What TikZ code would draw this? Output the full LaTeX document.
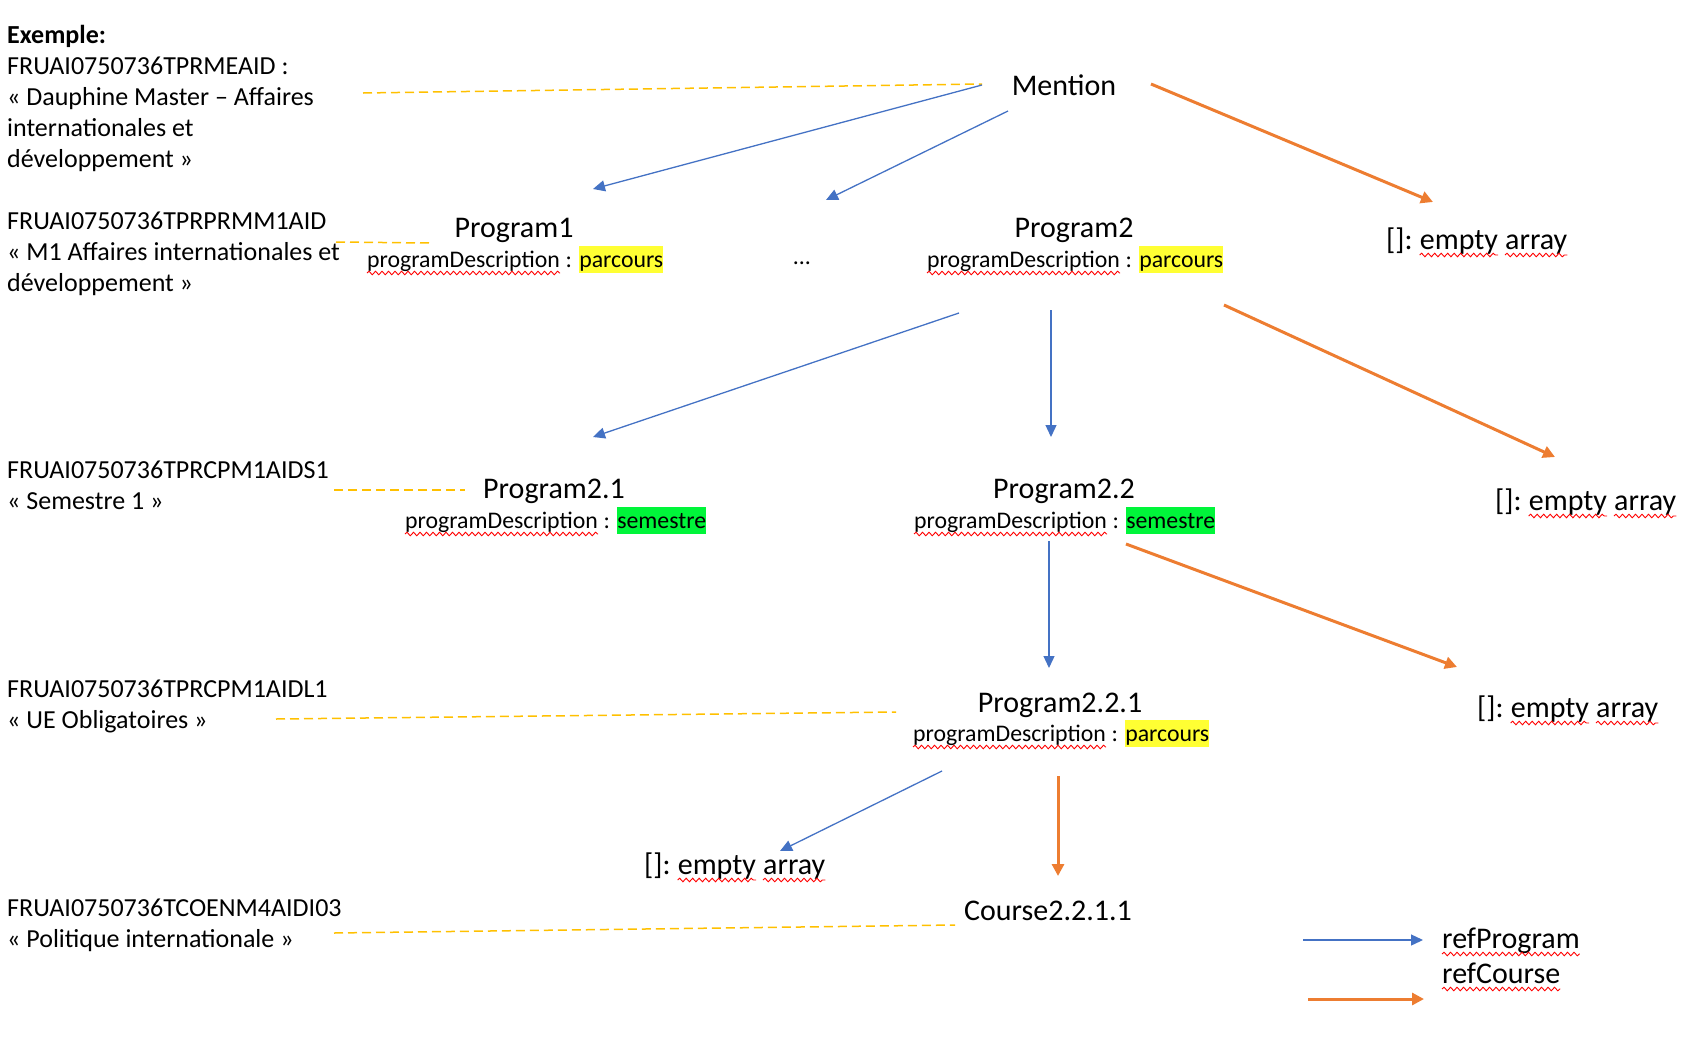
\documentclass[tikz,border=0pt]{standalone}
\usepackage{fontspec}
\setmainfont{Carlito}
\usetikzlibrary{arrows.meta,positioning,decorations.pathmorphing}

\definecolor{refblue}{HTML}{4472C4}
\definecolor{reforange}{HTML}{ED7D31}
\definecolor{idgold}{HTML}{FFC000}
\definecolor{hlyellow}{HTML}{FFFF33}
\definecolor{hlgreen}{HTML}{00F53A}
\definecolor{spellred}{HTML}{FF0000}

\newcommand{\hilite}[2]{{\setlength{\fboxsep}{0pt}\colorbox{#1}{\rule[-6pt]{0pt}{27pt}#2}}}

\begin{document}
\begin{tikzpicture}[x=1pt,y=-1pt,->,>={Triangle[length=12pt,width=11pt]}]
    \tikzstyle{title}=[anchor=base,inner sep=0pt,font=\fontsize{30}{36}\selectfont]
    \tikzstyle{descr}=[anchor=base west,inner sep=0pt,font=\fontsize{23.8}{28}\selectfont]
    \tikzstyle{ident}=[anchor=base west,inner sep=0pt,align=left,font=\fontsize{26}{31}\selectfont]
    \tikzstyle{refprog}=[->,draw=refblue,line width=1.3pt]
    \tikzstyle{refcourse}=[-{Triangle[length=12pt,width=12pt]},draw=reforange,line width=3pt]
    \tikzstyle{idlink}=[-,draw=idgold,line width=1.5pt,dash pattern=on 9pt off 5pt]
    \tikzstyle{spell}=[-,draw=spellred,line width=0.9pt,decorate,decoration={snake,amplitude=1.8pt,segment length=6.5pt}]
    \useasboundingbox (0,0) rectangle (1690,1050);

    % identifiers on the left (anchored on the last line)
    \node[ident] (idA) at (7,167) {\textbf{Exemple:}\\FRUAI0750736TPRMEAID :\\« Dauphine Master – Affaires\\internationales et\\développement »};
    \node[ident] (idB) at (7,291) {FRUAI0750736TPRPRMM1AID\\« M1 Affaires internationales et\\développement »};
    \node[ident] (idC) at (7,509) {FRUAI0750736TPRCPM1AIDS1\\« Semestre 1 »};
    \node[ident] (idD) at (7,728) {FRUAI0750736TPRCPM1AIDL1\\« UE Obligatoires »};
    \node[ident] (idE) at (7,947) {FRUAI0750736TCOENM4AIDI03\\« Politique internationale »};

    % tree
    \node[title] (mention) at (1064,95)  {Mention};
    \node[title] (p1)      at (514,237)  {Program1};
    \node[descr] (p1k)     at (367,267)  {programDescription};
    \node[descr,base right=5.4pt of p1k] (p1v) {: \hilite{hlyellow}{parcours}};
    \node[descr,anchor=base] (dots) at (802,264) {...};
    \node[title] (p2)      at (1074,237) {Program2};
    \node[descr] (p2k)     at (927,267)  {programDescription};
    \node[descr,base right=5.4pt of p2k] (p2v) {: \hilite{hlyellow}{parcours}};
    \node[title] (p21)     at (554,498)  {Program2.1};
    \node[descr] (p21k)    at (405,528)  {programDescription};
    \node[descr,base right=5.4pt of p21k] (p21v) {: \hilite{hlgreen}{semestre}};
    \node[title] (p22)     at (1064,498) {Program2.2};
    \node[descr] (p22k)    at (914,528)  {programDescription};
    \node[descr,base right=5.4pt of p22k] (p22v) {: \hilite{hlgreen}{semestre}};
    \node[title] (p221)    at (1060,712) {Program2.2.1};
    \node[descr] (p221k)   at (913,741)  {programDescription};
    \node[descr,base right=5.4pt of p221k] (p221v) {: \hilite{hlyellow}{parcours}};
    \node[title] (course)  at (1048,920) {Course2.2.1.1};

    % empty arrays
    \foreach \n/\pos in {e1/{(1386,249)},e2/{(1495,510)},e3/{(1477,717)},e4/{(644,874)}}{
        \node[title,anchor=base west] (\n) at \pos {[]:};
        \node[title,base right=6.8pt of \n] (\n m) {empty};
        \node[title,base right=6.8pt of \n m] (\n a) {array};
    }

    % legend
    \node[title,anchor=base west] (refp) at (1442,948) {refProgram};
    \node[title,anchor=base west] (refc) at (1442,983) {refCourse};
    \coordinate (lgb) at (1303,940);
    \coordinate (lgo) at (1308,999);

    % spelling marks
    \foreach \w in {p1k,p2k,p21k,p22k,p221k,e1m,e1a,e2m,e2a,e3m,e3a,e4m,e4a,refp,refc}
        \draw[spell] ([yshift=-6pt]\w.base west) -- ([yshift=-6pt]\w.base east);

    % dashed links id -> element
    \coordinate (d1) at (363,93);
    \coordinate (d2) at (336,242);
    \coordinate (d3) at (334,490);
    \coordinate (d4) at (276,719);
    \coordinate (d5) at (334,933);
    \draw[idlink] (d1) -- ([shift={(-82,-11)}]mention.base);
    \draw[idlink] (d2) -- ([shift={(-84,6)}]p1.base);
    \draw[idlink] (d3) -- ([shift={(-89,-8)}]p21.base);
    \draw[idlink] (d4) -- ([shift={(-164,0)}]p221.base);
    \draw[idlink] (d5) -- ([shift={(-93,5)}]course.base);

    % refProgram
    \draw[refprog] ([shift={(-82,-10)}]mention.base) -- ([shift={(79,-48)}]p1.base);
    \draw[refprog] ([shift={(-56,16)}]mention.base) -- ([shift={(24,-64)}]dots.base);
    \draw[refprog] ([shift={(32,46)}]p2k.base west) -- ([shift={(39,-61)}]p21.base);
    \draw[refprog] ([shift={(124,43)}]p2k.base west) -- ([shift={(-13,-61)}]p22.base);
    \draw[refprog] ([shift={(135,13)}]p22k.base west) -- ([shift={(-11,-44)}]p221.base);
    \draw[refprog] ([shift={(29,30)}]p221k.base west) -- ([shift={(136,-23)}]e4.base west);
    \draw[refprog] (lgb) -- ([shift={(-19,-8)}]refp.base west);

    % refCourse
    \draw[refcourse] ([shift={(87,-11)}]mention.base) -- ([shift={(47,-47)}]e1.base west);
    \draw[refcourse] ([shift={(297,38)}]p2k.base west) -- ([shift={(60,-53)}]e2.base west);
    \draw[refcourse] ([shift={(212,16)}]p22k.base west) -- ([shift={(-20,-50)}]e3.base west);
    \draw[refcourse] ([shift={(145,35)}]p221k.base west) -- ([shift={(10,-44)}]course.base);
    \draw[refcourse] (lgo) -- ([shift={(-18,16)}]refc.base west);
\end{tikzpicture}
\end{document}
